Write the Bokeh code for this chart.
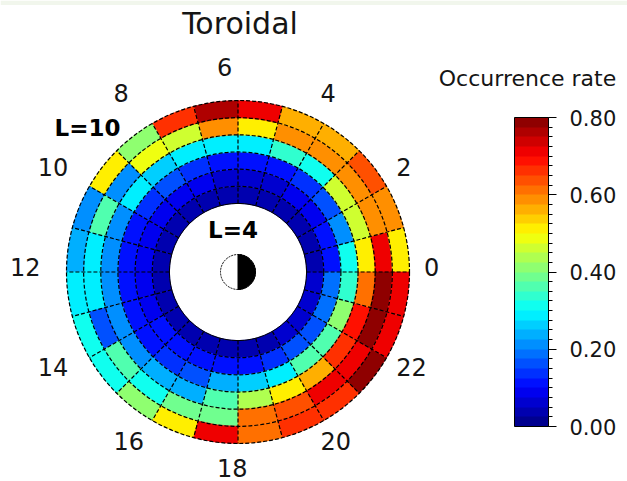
import numpy as np
from bokeh.plotting import figure
from bokeh.models import (ColumnDataSource, LinearColorMapper, ColorBar,
                          SingleIntervalTicker, PrintfTickFormatter, BoxAnnotation)
from bokeh.transform import transform
from bokeh.core.properties import value
from bokeh.embed import file_html
from bokeh.resources import INLINE

# ---------------------------------------------------------------------------
# Occurrence rate of toroidal waves, binned by L shell (rings) and MLT (hours)
# ---------------------------------------------------------------------------
mlt_hours = list(range(24))          # start of each 1-hour MLT bin
l_inner = [4, 5, 6, 7, 8, 9]         # inner edge of each L-shell ring

rate_L4 = [0.04, 0.04, 0.04, 0.035, 0.03, 0.03, 0.03, 0.035, 0.04, 0.045, 0.045, 0.045,
           0.045, 0.045, 0.045, 0.04, 0.04, 0.035, 0.04, 0.045, 0.055, 0.06, 0.055, 0.05]
rate_L5 = [0.11, 0.10, 0.09, 0.08, 0.07, 0.07, 0.07, 0.08, 0.09, 0.09, 0.08, 0.08,
           0.08, 0.09, 0.10, 0.10, 0.10, 0.11, 0.12, 0.13, 0.15, 0.17, 0.18, 0.18]
rate_L6 = [0.30, 0.21, 0.15, 0.13, 0.12, 0.11, 0.12, 0.13, 0.15, 0.13, 0.11, 0.10,
           0.10, 0.11, 0.12, 0.14, 0.15, 0.24, 0.27, 0.28, 0.36, 0.37, 0.41, 0.33]
rate_L7 = [0.50, 0.45, 0.45, 0.30, 0.34, 0.29, 0.28, 0.28, 0.25, 0.29, 0.22, 0.20,
           0.22, 0.20, 0.21, 0.24, 0.24, 0.35, 0.43, 0.50, 0.57, 0.66, 0.68, 0.62]
rate_L8 = [0.70, 0.59, 0.59, 0.58, 0.58, 0.50, 0.58, 0.47, 0.49, 0.22, 0.37, 0.29,
           0.28, 0.17, 0.35, 0.30, 0.38, 0.39, 0.60, 0.63, 0.70, 0.72, 0.78, 0.78]
rate_L9 = [0.50, 0.59, 0.64, 0.57, 0.55, 0.70, 0.76, 0.66, 0.40, 0.52, 0.22, 0.23,
           0.29, 0.31, 0.30, 0.40, 0.52, 0.71, 0.60, 0.65, 0.65, 0.79, 0.72, 0.72]

hour_labels = [0, 2, 4, 6, 8, 10, 12, 14, 16, 18, 20, 22]
rate_low, rate_high = 0.0, 0.8

FONT = value("DejaVu Sans")
INK = "#151515"

# ---------------------------------------------------------------------------
# 32-level jet colour table
# ---------------------------------------------------------------------------
def jet(n):
    cols = []
    for i in range(n):
        x = (i + 0.5) / n
        r = np.clip(1.5 - abs(4 * x - 3), 0, 1)
        g = np.clip(1.5 - abs(4 * x - 2), 0, 1)
        b = np.clip(1.5 - abs(4 * x - 1), 0, 1)
        cols.append("#%02x%02x%02x" % (int(round(r * 255)), int(round(g * 255)), int(round(b * 255))))
    return cols

mapper = LinearColorMapper(palette=jet(32), low=rate_low, high=rate_high)

# ---------------------------------------------------------------------------
# Canvas: polar dial centred at (CX, CY) page pixels, PX pixels per L unit
# ---------------------------------------------------------------------------
W, H = 627, 481
CX, CY = 237.5, 271.5
PX = 17.15
x0, x1 = -CX / PX, (W - CX) / PX
y0, y1 = -(H - CY) / PX, CY / PX


def page_x(px):
    """page pixel column -> data x"""
    return (px - CX) / PX


def page_y(py):
    """page pixel row (from top) -> data y"""
    return (CY - py) / PX


p = figure(width=W, height=H, x_range=(x0, x1), y_range=(y0, y1),
           x_axis_type=None, y_axis_type=None, output_backend="svg",
           toolbar_location=None, min_border=0)
p.grid.visible = False
p.outline_line_color = None
p.background_fill_color = "white"
p.border_fill_color = "white"

# thin tinted strip along the top edge
p.add_layout(BoxAnnotation(bottom=y1 - 4.5 / PX, fill_color="#f1f6ec", fill_alpha=1.0,
                           line_color=None))

# ---------------------------------------------------------------------------
# Cells (one annular wedge per L ring / MLT hour)
# ---------------------------------------------------------------------------
rings = [rate_L4, rate_L5, rate_L6, rate_L7, rate_L8, rate_L9]
inner, outer, start, end, rate = [], [], [], [], []
for L, row in zip(l_inner, rings):
    for h, v in zip(mlt_hours, row):
        inner.append(L)
        outer.append(L + 1)
        start.append(h * np.pi / 12)
        end.append((h + 1) * np.pi / 12)
        rate.append(v)
cells = ColumnDataSource(dict(inner=inner, outer=outer, start=start, end=end, rate=rate))
p.annular_wedge(x=0, y=0, inner_radius="inner", outer_radius="outer",
                start_angle="start", end_angle="end", source=cells,
                fill_color=transform("rate", mapper),
                line_color=transform("rate", mapper), line_width=0.6)

# ---------------------------------------------------------------------------
# Dashed grid: L circles and hourly radial lines
# ---------------------------------------------------------------------------
l_edges = l_inner + [l_inner[-1] + 1]
p.circle(x=[0] * (len(l_edges) - 1), y=[0] * (len(l_edges) - 1), radius=l_edges[1:],
         fill_color=None, line_color="black", line_width=1.2, line_dash="4 2")
p.circle(x=[0], y=[0], radius=[l_edges[0]], fill_color=None, line_color="black",
         line_width=1)
ang = np.array(mlt_hours) * np.pi / 12
r_in, r_out = l_edges[0], l_edges[-1]
p.segment(x0=r_in * np.cos(ang), y0=r_in * np.sin(ang),
          x1=r_out * np.cos(ang), y1=r_out * np.sin(ang),
          line_color="black", line_width=1.2, line_dash="4 2")

# Earth symbol: day side white, night side (midnight, right) black
p.circle(x=[0], y=[0], radius=[1.02], fill_color="white", line_color="black",
         line_width=1, line_dash="2 1")
p.wedge(x=[0], y=[0], radius=[1.02], start_angle=-np.pi / 2, end_angle=np.pi / 2,
        fill_color="black", line_color="black", line_width=1)

# ---------------------------------------------------------------------------
# MLT labels around the dial (left edge of each label sits on a ring)
# ---------------------------------------------------------------------------
th = np.array(hour_labels) * np.pi / 12
lx = (207 * np.cos(th) - 21) / PX
ly = (200.5 * np.sin(th) + 5) / PX
p.text(x=lx, y=ly, text=[str(h) for h in hour_labels],
       text_font=FONT, text_font_size="24px",
       text_align="left", text_baseline="middle", text_color=INK)

# L-shell annotations
p.text(x=[page_x(87)], y=[page_y(127.5)], text=["L=10"], text_font=FONT,
       text_font_style="bold", text_font_size="23px", text_align="center",
       text_baseline="middle", text_color="black")
p.text(x=[page_x(232.5)], y=[page_y(229.5)], text=["L=4"], text_font=FONT,
       text_font_style="bold", text_font_size="23px", text_align="center",
       text_baseline="middle", text_color="black")

# Panel title and colour-bar title
p.text(x=[page_x(239.5)], y=[page_y(23)], text=["Toroidal"], text_font=FONT,
       text_font_size="30px", text_align="center", text_baseline="middle",
       text_color=INK)
p.text(x=[page_x(527)], y=[page_y(77.5)], text=["Occurrence rate"], text_font=FONT,
       text_font_size="22px", text_align="center", text_baseline="middle",
       text_color=INK)

# ---------------------------------------------------------------------------
# Colour bar
# ---------------------------------------------------------------------------
cb = ColorBar(color_mapper=mapper,
              ticker=SingleIntervalTicker(interval=0.2, num_minor_ticks=8),
              formatter=PrintfTickFormatter(format="%.2f"),
              width=34, height=309, location=(514, 55), padding=0,
              bar_line_color="black", bar_line_width=1,
              major_tick_in=0, major_tick_out=8, major_tick_line_color="black",
              minor_tick_in=0, minor_tick_out=4, minor_tick_line_color="black",
              label_standoff=13, major_label_text_font="DejaVu Sans",
              major_label_text_font_size="21px", major_label_text_color=INK,
              background_fill_alpha=0, border_line_color=None)
p.add_layout(cb)

open("out.html", "w").write(file_html(p, INLINE))
